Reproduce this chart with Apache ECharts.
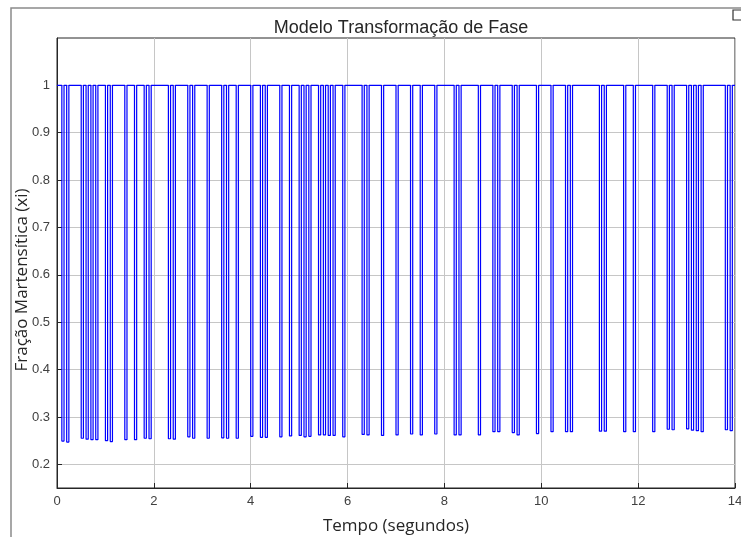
<!DOCTYPE html>
<html>
<head>
<meta charset="utf-8">
<script src="https://cdn.jsdelivr.net/npm/echarts@6/dist/echarts.min.js"></script>
<style>
  html, body { margin: 0; padding: 0; background: #fff; }
  #chart { width: 741px; height: 537px; }
</style>
</head>
<body>
<div id="chart"></div>
<script>
// instantes (s) em que a fração cai
const dropTimes = [
    0.1, 0.2, 0.5, 0.6, 0.7, 0.8, 1.0, 1.1, 1.4, 1.6, 1.8, 1.9, 2.3, 2.4, 2.7, 2.8,
    3.1, 3.4, 3.5, 3.7, 4.0, 4.2, 4.3, 4.6, 4.8, 5.0, 5.1, 5.2, 5.4, 5.5, 5.6, 5.7,
    5.9, 6.3, 6.4, 6.7, 7.0, 7.3, 7.5, 7.8, 8.2, 8.3, 8.7, 9.0, 9.1, 9.4, 9.5, 9.9,
    10.2, 10.5, 10.6, 11.2, 11.3, 11.7, 11.9, 12.3, 12.6, 12.7, 13.0, 13.1, 13.2, 13.3,
    13.8, 13.9
];
// valor minimo de cada queda
const dropValues = [
    0.249, 0.247, 0.255, 0.253, 0.252, 0.252, 0.250, 0.248, 0.252, 0.252, 0.255, 0.254,
    0.254, 0.253, 0.258, 0.255, 0.255, 0.256, 0.255, 0.255, 0.259, 0.257, 0.257, 0.258,
    0.260, 0.261, 0.258, 0.259, 0.262, 0.262, 0.261, 0.261, 0.258, 0.263, 0.262, 0.261,
    0.262, 0.264, 0.262, 0.264, 0.262, 0.262, 0.262, 0.269, 0.269, 0.267, 0.262, 0.265,
    0.269, 0.269, 0.269, 0.270, 0.270, 0.269, 0.269, 0.269, 0.274, 0.273, 0.275, 0.272,
    0.271, 0.269, 0.273, 0.271
];
const baseValue = 1;
const pulseWidth = 0.045;
const yTicks = [0.2, 0.3, 0.4, 0.5, 0.6, 0.7, 0.8, 0.9, 1];

// monta a serie
let lineData = [[0, baseValue]];
dropTimes.forEach((t, i) => {
    lineData.push([t, baseValue]);
    lineData.push([t, dropValues[i]]);
    lineData.push([t + pulseWidth, dropValues[i]]);
    lineData.push([t + pulseWidth, baseValue]);
});
lineData.push([14, baseValue]);

let myChart = echarts.init(document.getElementById('chart'));
myChart.setOption({
    animation: false,
    backgroundColor: '#fff',
    title: {
        text: 'Modelo Transformação de Fase',
        left: 396,
        textAlign: 'center',
        top: 14,
        textStyle: {
            fontFamily: 'Liberation Sans',
            fontWeight: 'normal',
            fontSize: 18,
            color: '#262626'
        }
    },
    graphic: [
        {
            type: 'polyline',
            shape: { points: [[11, 537], [11, 8], [741, 8]] },
            style: { stroke: '#8a8a8a', lineWidth: 1.5, fill: null }
        },
        {
            type: 'rect',
            shape: { x: 733, y: 10, width: 10, height: 10 },
            style: { stroke: '#333', lineWidth: 1.2, fill: null }
        },
        {
            // titulo do eixo y
            type: 'text',
            x: 22,
            y: 280,
            rotation: Math.PI / 2,
            style: {
                text: 'Fração Martensítica (xi)',
                fontFamily: 'Open Sans',
                fontSize: 17,
                fill: '#262626',
                align: 'center',
                verticalAlign: 'middle'
            }
        }
    ],
    grid: {
        left: 57,
        right: 6,
        top: 38,
        bottom: 49,
        containLabel: false,
        outerBoundsMode: 'none',
        show: true,
        borderColor: '#262626',
        borderWidth: 1
    },
    xAxis: {
        type: 'value',
        min: 0,
        max: 14,
        interval: 2,
        name: 'Tempo (segundos)',
        nameLocation: 'middle',
        nameGap: 30,
        nameTextStyle: { fontFamily: 'Open Sans', fontSize: 17, color: '#262626' },
        axisLine: { show: true, lineStyle: { color: '#262626' } },
        axisTick: { show: true, inside: true, length: 5, lineStyle: { color: '#262626' } },
        axisLabel: { margin: 7, fontFamily: 'Liberation Sans', fontSize: 13, color: '#404040' },
        splitLine: { show: true, lineStyle: { color: '#c6c6c6', width: 1 } }
    },
    yAxis: {
        type: 'value',
        min: 0.15,
        max: 1.1,
        axisLine: { show: true, lineStyle: { color: '#262626' } },
        axisTick: { show: true, inside: true, length: 5, customValues: yTicks, lineStyle: { color: '#262626' } },
        axisLabel: {
            margin: 7,
            customValues: yTicks,
            fontFamily: 'Liberation Sans',
            fontSize: 13,
            color: '#404040',
            formatter: (v) => String(Math.round(v * 10) / 10)
        },
        splitLine: { show: true, lineStyle: { color: '#c6c6c6', width: 1 } }
    },
    series: [
        {
            type: 'line',
            data: lineData,
            symbol: 'none',
            lineStyle: { color: '#0000ff', width: 1.2 }
        }
    ]
});
</script>
</body>
</html>
